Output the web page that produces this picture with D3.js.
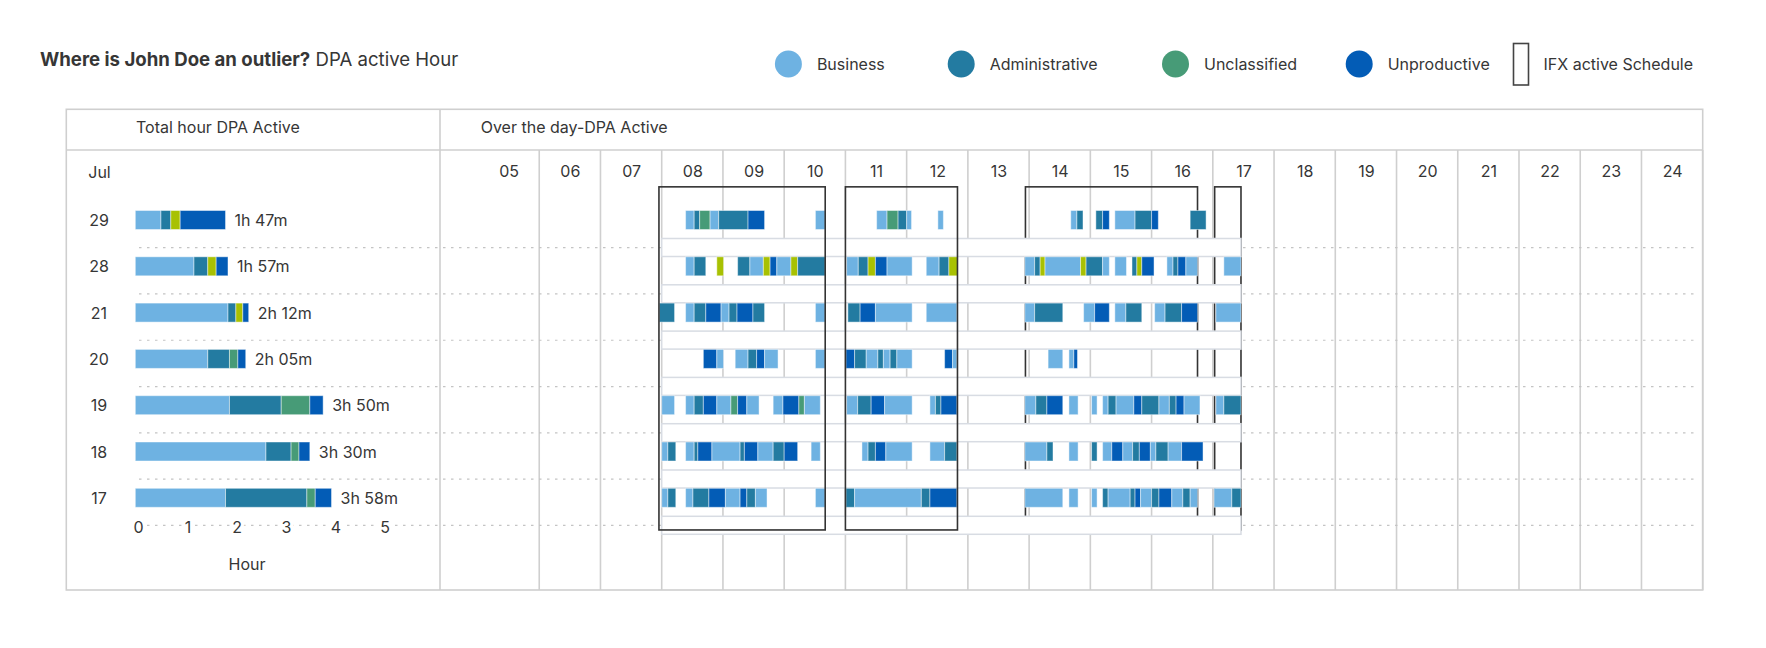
<!DOCTYPE html>
<html><head><meta charset="utf-8">
<script src="https://cdn.jsdelivr.net/npm/d3@7"></script>
<style>
html,body{margin:0;padding:0;background:#fff;}
svg{display:block;font-family:Inter,"Noto Sans",sans-serif;}
</style></head><body>
<svg id="chart" width="1766" height="648"></svg>
<script>
// ---------------- DATA ----------------
const titleBold = "Where is John Doe an outlier?";
const titleRest = " DPA active Hour";
const leftHeader = "Total hour DPA Active";
const rightHeader = "Over the day-DPA Active";
const monthLabel = "Jul";
const days = ["29","28","21","20","19","18","17"];
const totalLabels = ["1h 47m","1h 57m","2h 12m","2h 05m","3h 50m","3h 30m","3h 58m"];
const hourLabels = ["05","06","07","08","09","10","11","12","13","14","15","16","17","18","19","20","21","22","23","24"];
const hourTicks = [0,1,2,3,4,5];
const axisTitle = "Hour";

const categories = ["Business","Administrative","Unclassified","Other","Unproductive"];
const categoryCodes = ["B","A","C","O","P"];
const legendCategories = ["Business","Administrative","Unclassified","Unproductive"];
const scheduleLegend = "IFX active Schedule";
const colors = ["#6eb2e2","#237ba1","#479b77","#a8c102","#035cb6"];

// summary hours per day (order of days)
const businessHours     = [0.52,1.19,1.88,1.47,1.91,2.65,1.83];
const adminHours        = [0.20,0.28,0.16,0.44,1.05,0.51,1.65];
const unclassifiedHours = [0,0,0,0.17,0.58,0.16,0.17];
const otherHours        = [0.19,0.17,0.14,0,0,0,0];
const unproductiveHours = [0.92,0.24,0.12,0.16,0.27,0.22,0.33];

// IFX active schedule (hour of day)
const schedule = [[7.955,10.67],[11.0,12.83],[13.94,16.75],[17.03,17.46]];
const dayRange = [8.0,17.46];

// activity segments over the day: [start hour, end hour, category code]
const seg29 = [[8.39,8.53,"B"],[8.53,8.62,"A"],[8.62,8.79,"C"],[8.79,8.93,"B"],[8.93,9.41,"A"],[9.41,9.68,"P"],
 [10.51,10.67,"B"],[11.51,11.68,"B"],[11.68,11.86,"C"],[11.86,12.0,"A"],[12.0,12.08,"B"],[12.51,12.60,"B"],
 [14.68,14.78,"B"],[14.78,14.88,"A"],[15.09,15.20,"A"],[15.20,15.31,"P"],[15.40,15.73,"B"],[15.73,16.0,"A"],[16.0,16.11,"P"],[16.63,16.89,"A"]];
const seg28 = [[8.39,8.53,"B"],[8.53,8.72,"A"],[8.90,9.01,"O"],[9.24,9.44,"A"],[9.44,9.66,"B"],[9.66,9.77,"O"],[9.77,9.88,"P"],[9.88,10.11,"B"],[10.11,10.22,"O"],[10.22,10.67,"A"],
 [11.02,11.21,"B"],[11.21,11.37,"A"],[11.37,11.49,"O"],[11.49,11.68,"P"],[11.68,12.09,"B"],[12.32,12.53,"B"],[12.53,12.69,"A"],[12.69,12.83,"O"],
 [13.93,14.09,"B"],[14.09,14.18,"A"],[14.18,14.26,"O"],[14.26,14.84,"B"],[14.84,14.93,"O"],[14.93,15.20,"A"],[15.20,15.31,"B"],[15.40,15.59,"B"],[15.68,15.76,"A"],[15.76,15.84,"O"],[15.84,16.04,"P"],[16.25,16.35,"B"],[16.35,16.43,"A"],[16.43,16.56,"P"],[16.56,16.75,"B"],[17.18,17.46,"B"]];
const seg21 = [[7.96,8.21,"A"],[8.39,8.53,"B"],[8.53,8.72,"A"],[8.72,8.97,"P"],[8.97,9.10,"B"],[9.10,9.23,"A"],[9.23,9.49,"P"],[9.49,9.68,"A"],[10.51,10.67,"B"],
 [11.04,11.24,"A"],[11.24,11.49,"P"],[11.49,12.09,"B"],[12.32,12.82,"B"],
 [13.93,14.09,"B"],[14.09,14.55,"A"],[14.89,15.07,"B"],[15.07,15.31,"P"],[15.40,15.58,"B"],[15.58,15.84,"A"],[16.05,16.22,"B"],[16.22,16.49,"A"],[16.49,16.75,"P"],[17.05,17.46,"B"]];
const seg20 = [[8.68,8.90,"P"],[8.90,9.01,"B"],[9.20,9.41,"B"],[9.41,9.55,"A"],[9.55,9.68,"P"],[9.68,9.90,"B"],[10.51,10.67,"B"],
 [11.01,11.15,"P"],[11.15,11.34,"A"],[11.34,11.53,"B"],[11.53,11.62,"A"],[11.62,11.73,"B"],[11.73,11.84,"A"],[11.84,12.09,"B"],[12.62,12.75,"P"],[12.75,12.82,"B"],
 [14.31,14.55,"B"],[14.65,14.73,"B"],[14.73,14.79,"P"]];
const seg19 = [[8.0,8.21,"B"],[8.39,8.53,"B"],[8.53,8.68,"A"],[8.68,8.90,"P"],[8.90,9.13,"B"],[9.13,9.24,"C"],[9.24,9.39,"P"],[9.39,9.59,"B"],[9.82,9.98,"B"],[9.98,10.24,"P"],[10.24,10.33,"C"],[10.33,10.59,"B"],
 [11.02,11.20,"B"],[11.20,11.42,"A"],[11.42,11.64,"P"],[11.64,12.09,"B"],[12.38,12.47,"B"],[12.47,12.56,"A"],[12.56,12.82,"P"],
 [13.93,14.11,"B"],[14.11,14.29,"A"],[14.29,14.55,"P"],[14.65,14.80,"B"],[15.02,15.11,"B"],[15.20,15.29,"B"],[15.29,15.42,"A"],[15.42,15.71,"B"],[15.71,15.84,"P"],[15.84,16.12,"A"],[16.12,16.29,"B"],[16.29,16.40,"A"],[16.40,16.53,"P"],[16.53,16.79,"B"],[17.05,17.18,"B"],[17.18,17.46,"A"]];
const seg18 = [[8.0,8.10,"B"],[8.10,8.23,"A"],[8.39,8.53,"B"],[8.53,8.59,"A"],[8.59,8.82,"P"],[8.82,9.28,"B"],[9.28,9.35,"A"],[9.35,9.57,"P"],[9.57,9.82,"B"],[9.82,10.0,"A"],[10.0,10.22,"P"],[10.44,10.59,"B"],
 [11.27,11.37,"B"],[11.37,11.49,"A"],[11.49,11.66,"P"],[11.66,12.09,"B"],[12.38,12.62,"B"],[12.62,12.82,"A"],
 [13.93,14.29,"B"],[14.29,14.39,"A"],[14.65,14.80,"B"],[15.02,15.11,"A"],[15.20,15.35,"B"],[15.35,15.53,"P"],[15.53,15.69,"B"],[15.69,15.80,"A"],[15.80,15.98,"P"],[15.98,16.07,"B"],[16.07,16.27,"A"],[16.27,16.49,"B"],[16.49,16.84,"P"]];
const seg17 = [[8.0,8.10,"B"],[8.10,8.23,"A"],[8.39,8.51,"B"],[8.51,8.77,"A"],[8.77,9.04,"P"],[9.04,9.28,"B"],[9.28,9.39,"P"],[9.39,9.53,"A"],[9.53,9.72,"B"],[10.51,10.67,"B"],
 [11.01,11.15,"A"],[11.15,12.24,"B"],[12.24,12.38,"A"],[12.38,12.82,"P"],
 [13.93,14.55,"B"],[14.65,14.80,"B"],[15.02,15.11,"B"],[15.20,15.29,"A"],[15.29,15.65,"B"],[15.65,15.73,"A"],[15.73,15.82,"P"],[15.82,16.0,"B"],[16.0,16.12,"A"],[16.12,16.33,"P"],[16.33,16.51,"B"],[16.51,16.63,"A"],[16.63,16.75,"B"],[17.02,17.31,"B"],[17.31,17.46,"A"]];
const segmentsByDay = [seg29,seg28,seg21,seg20,seg19,seg18,seg17];

// ---------------- CHART ----------------
const svg = d3.select("#chart");
const textColor = "#363636";
const gridColor = "#cfcfcf";
const colorOf = d3.scaleOrdinal().domain(categoryCodes).range(colors);
const colorByName = d3.scaleOrdinal().domain(categories).range(colors);

const frame = {x0:66.3, y0:109.3, x1:1702.7, y1:590, headerY:150, divider:440};

const y = d3.scaleBand().domain(days).range([196.85, 520.95]).paddingInner(0).paddingOuter(0);
const barH = 19;
const yc = d => y(d) + y.bandwidth()/2;
const xT = d3.scaleLinear().domain([5,25]).range([478, 1702.7]);
const xL = d3.scaleLinear().domain([0,5]).range([135.3, 381.8]);

// title
const title = svg.append("text").attr("x",40).attr("y",59).attr("dominant-baseline","central")
  .attr("font-size",18.6).attr("fill",textColor);
title.append("tspan").attr("font-weight",700).text(titleBold);
title.append("tspan").attr("font-weight",400).text(titleRest);

// legend
const legendX = [788.4, 961.2, 1175.5, 1359.2];
const lg = svg.append("g");
legendCategories.forEach((c,i)=>{
  lg.append("circle").attr("cx",legendX[i]).attr("cy",64).attr("r",13.5).attr("fill",colorByName(c));
  lg.append("text").attr("x",legendX[i]+28.5).attr("y",64).attr("dominant-baseline","central")
    .attr("font-size",16).attr("fill",textColor).text(c);
});
lg.append("rect").attr("x",1513.5).attr("y",43.5).attr("width",15).attr("height",41.5)
  .attr("fill","none").attr("stroke","#444").attr("stroke-width",1.6);
lg.append("text").attr("x",1543.5).attr("y",64).attr("dominant-baseline","central")
  .attr("font-size",16).attr("fill",textColor).text(scheduleLegend);

// frame
const fg = svg.append("g").attr("fill","none").attr("stroke",gridColor).attr("stroke-width",1.6);
fg.append("rect").attr("x",frame.x0).attr("y",frame.y0).attr("width",frame.x1-frame.x0).attr("height",frame.y1-frame.y0);
fg.append("line").attr("x1",frame.x0).attr("x2",frame.x1).attr("y1",frame.headerY).attr("y2",frame.headerY);
fg.append("line").attr("x1",frame.divider).attr("x2",frame.divider).attr("y1",frame.y0).attr("y2",frame.y1);

// headers
svg.append("text").attr("x",136).attr("y",126.5).attr("dominant-baseline","central").attr("font-size",16).attr("fill",textColor).text(leftHeader);
svg.append("text").attr("x",480.7).attr("y",126.5).attr("dominant-baseline","central").attr("font-size",16).attr("fill",textColor).text(rightHeader);

// hour column lines
const hourNums = hourLabels.map(h=>+h);
svg.append("g").selectAll("line").data(hourNums).join("line")
  .attr("x1",h=>xT(h+1)).attr("x2",h=>xT(h+1)).attr("y1",frame.headerY).attr("y2",frame.y1)
  .attr("stroke",gridColor).attr("stroke-width",1.6);

// hour labels via axis
const hourAxis = d3.axisTop(xT).tickValues(hourNums.map(h=>h+0.5)).tickSize(0)
  .tickFormat((d,i)=>hourLabels[i]);
const ha = svg.append("g").attr("transform","translate(0,171)").call(hourAxis);
ha.select(".domain").remove();
ha.selectAll("text").attr("font-size",16).attr("fill",textColor).attr("font-family","Inter,'Noto Sans',sans-serif")
  .attr("dy",null).attr("y",0).attr("dominant-baseline","central");

// month + day labels
svg.append("text").attr("x",99.5).attr("y",171.5).attr("text-anchor","middle").attr("dominant-baseline","central")
  .attr("font-size",16).attr("fill",textColor).text(monthLabel);
svg.append("g").selectAll("text").data(days).join("text")
  .attr("x",99).attr("y",d=>yc(d)).attr("text-anchor","middle").attr("dominant-baseline","central")
  .attr("font-size",16).attr("fill",textColor).text(d=>d);

// dotted row lines
svg.append("g").selectAll("line").data(days).join("line")
  .attr("x1",139).attr("x2",1697).attr("y1",d=>y(d)+y.bandwidth()+4.5).attr("y2",d=>y(d)+y.bandwidth()+4.5)
  .attr("stroke","#c4c4c4").attr("stroke-width",1.2).attr("stroke-dasharray","2.5,5.5");

// schedule boxes (back layer)
const boxTop = y.range()[0]-10, boxBot = y.range()[1]+9;
const drawBoxes = (g, data) => g.selectAll("rect").data(data).join("rect")
  .attr("x",d=>xT(d[0])).attr("y",boxTop).attr("width",d=>xT(d[1])-xT(d[0])).attr("height",boxBot-boxTop)
  .attr("fill","none").attr("stroke","#333").attr("stroke-width",1.6);
drawBoxes(svg.append("g"), schedule.slice(2));

// row separators
svg.append("g").selectAll("rect").data(days).join("rect")
  .attr("x",xT(dayRange[0])).attr("width",xT(dayRange[1])-xT(dayRange[0]))
  .attr("y",d=>yc(d)+18.5).attr("height",18)
  .attr("fill","#fff").attr("stroke","#d8dce3").attr("stroke-width",1.5);

// timeline segments
const tg = svg.append("g");
days.forEach((d,i)=>{
  tg.append("g").selectAll("rect").data(segmentsByDay[i]).join("rect")
    .attr("x",s=>xT(s[0])).attr("width",s=>xT(s[1])-xT(s[0]))
    .attr("y",yc(d)-barH/2).attr("height",barH)
    .attr("fill",s=>colorOf(s[2])).attr("stroke","rgba(255,255,255,0.45)").attr("stroke-width",1);
});

// schedule boxes (front layer)
drawBoxes(svg.append("g"), schedule.slice(0,2));

// left stacked bars
const summary = days.map((d,i)=>({day:d, Business:businessHours[i], Administrative:adminHours[i],
  Unclassified:unclassifiedHours[i], Other:otherHours[i], Unproductive:unproductiveHours[i]}));
const stack = d3.stack().keys(categories)(summary);
const lgBars = svg.append("g");
stack.forEach(layer=>{
  lgBars.append("g").attr("fill",colorByName(layer.key)).selectAll("rect").data(layer.filter(s=>s[1]-s[0]>0)).join("rect")
    .attr("x",s=>xL(s[0])).attr("width",s=>xL(s[1])-xL(s[0]))
    .attr("y",s=>yc(s.data.day)-barH/2).attr("height",barH)
    .attr("stroke","rgba(255,255,255,0.45)").attr("stroke-width",1);
});
svg.append("g").selectAll("text").data(summary).join("text")
  .attr("x",(s,i)=>xL(stack[stack.length-1][i][1])+9).attr("y",s=>yc(s.day))
  .attr("dominant-baseline","central").attr("font-size",16).attr("fill",textColor)
  .text((s,i)=>totalLabels[i]);

// left axis
const axisY = y.range()[1]+4.5;
const la = svg.append("g").attr("transform",`translate(2.8,${axisY})`)
  .call(d3.axisBottom(xL).tickValues(hourTicks).tickSize(0).tickFormat(d3.format("d")));
la.select(".domain").remove();
la.selectAll("text").attr("font-size",16).attr("fill",textColor).attr("font-family","Inter,'Noto Sans',sans-serif")
  .attr("dy",null).attr("y",1.5).attr("dominant-baseline","central")
  .attr("stroke","#fff").attr("stroke-width",7).attr("paint-order","stroke");
svg.append("text").attr("x",247).attr("y",563.5).attr("text-anchor","middle").attr("dominant-baseline","central")
  .attr("font-size",16).attr("fill",textColor).text(axisTitle);
</script>
</body></html>
